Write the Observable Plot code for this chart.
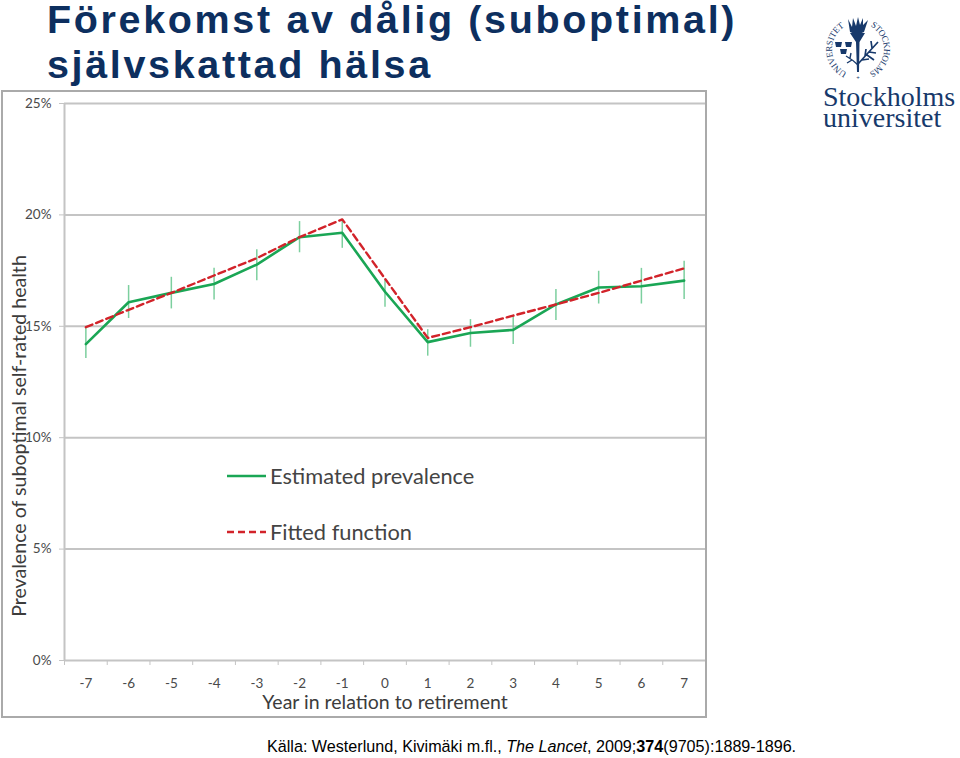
<!DOCTYPE html>
<html lang="sv"><head><meta charset="utf-8">
<script src="https://cdn.jsdelivr.net/npm/d3@7"></script>
<script src="https://cdn.jsdelivr.net/npm/@observablehq/plot@0.6"></script>
<style>
html,body{margin:0;padding:0;background:#fff;width:960px;height:758px;overflow:hidden;position:relative}
#title{position:absolute;left:47px;top:-3px;margin:0;font:bold 39.5px/45px "Liberation Sans",sans-serif;letter-spacing:2.65px;color:#0d2f5f;white-space:nowrap}
#chart{position:absolute;left:2px;top:91px}
#chart svg{display:block;outline:2px solid #aaa;outline-offset:-1px;background:#fff}
#source{position:absolute;left:267px;top:737px;font:16.15px/19px "Liberation Sans",sans-serif;color:#000;white-space:nowrap}
#legend{position:absolute;left:227px;top:463px;font:21.8px/26px Lato,sans-serif;color:#444}
#legend div{position:absolute;left:0;white-space:nowrap;display:flex;align-items:center;gap:4px}
#logo{position:absolute;left:815px;top:10px}
#wordmark{position:absolute;left:823px;top:86px;font:28px/21px "Liberation Serif",serif;color:#17396b}
</style></head><body>
<h1 id="title">Förekomst av dålig (suboptimal)<br>självskattad hälsa</h1>
<div id="chart"></div>
<div id="legend">
  <div style="top:0"><svg width="39" height="6"><line x1="0" x2="39" y1="3" y2="3" stroke="#1aa655" stroke-width="2.6"/></svg>Estimated prevalence</div>
  <div style="top:56px"><svg width="39" height="6"><line x1="0" x2="39" y1="3" y2="3" stroke="#d2232a" stroke-width="2.6" stroke-dasharray="7 4"/></svg>Fitted function</div>
</div>
<svg id="logo" width="86" height="76" viewBox="0 0 86 76" fill="#17396b">
  <defs><path id="ring" d="M32 62.6 A26 26 0 1 1 54 62.6"/></defs>
  <text font-family="Liberation Serif,serif" font-size="9"><textPath href="#ring" startOffset="0" textLength="56" lengthAdjust="spacing">UNIVERSITET</textPath></text>
  <text font-family="Liberation Serif,serif" font-size="9"><textPath href="#ring" startOffset="83" textLength="57" lengthAdjust="spacing">STOCKHOLMS</textPath></text>
  <text x="43" y="69" font-size="6" text-anchor="middle" font-family="Liberation Sans,sans-serif">+</text>
  <path d="M33 9 L37 17 L38 8 L41 16 L43 7 L45 15 L48 8 L48 15 L53 10 L49 22 Q42 26 35 22Z"/>
  <path d="M35 23 L50 23 L44.5 32 L44 62 L42 62 L41 32Z"/>
  <path d="M20 32h7l-1 5h-5zM30 32h7l-1 5h-5zM25 39h7l-1 5h-5z"/>
  <path d="M43 54 Q52 44 63 32 M47 50l7-1M50 46l1-7M54 42l7 1M52 45l7 5M57 38l-1-7" fill="none" stroke="#17396b" stroke-width="1.7"/>
  <path d="M43 55 Q38 50 31 46 M37 50l-5 3M35 48l1-5" fill="none" stroke="#17396b" stroke-width="1.4"/>
</svg>
<div id="wordmark">Stockholms<br>universitet</div>
<div id="source">Källa: Westerlund, Kivimäki m.fl., <i>The Lancet</i>, 2009;<b>374</b>(9705):1889-1896.</div>
<script>
const years = [-7,-6,-5,-4,-3,-2,-1,0,1,2,3,4,5,6,7];
const estimated = [14.2,16.08,16.5,16.9,17.77,19.0,19.2,16.55,14.29,14.7,14.84,15.98,16.74,16.8,17.05];
const fitted = [14.96,15.74,16.5,17.28,18.06,19.0,19.8,17.14,14.48,14.96,15.48,15.98,16.5,17.05,17.6];
const lower = [13.55,15.35,15.78,16.18,17.05,18.3,18.5,15.86,13.66,14.06,14.18,15.26,16.0,16.0,16.2];
const upper = [14.96,16.83,17.2,17.6,18.44,19.7,19.8,17.1,14.85,15.3,15.5,16.65,17.47,17.6,17.92];
const yTicks = [0,5,10,15,20,25];
const xBoundaries = [-7.5,-6.5,-5.5,-4.5,-3.5,-2.5,-1.5,-0.5,0.5,1.5,2.5,3.5,4.5,5.5,6.5,7.5];
const xLabel = "Year in relation to retirement";
const yLabel = "Prevalence of suboptimal self-rated health";
const table = years.map((year,i)=>({year,est:estimated[i],fit:fitted[i],lo:lower[i],hi:upper[i]}));
const grey = "#c4c4c4", ink = "#4a4a4a";
const plot = Plot.plot({
  width:704, height:626,
  marginLeft:62, marginRight:1, marginTop:12, marginBottom:57,
  style:{fontFamily:"Lato, sans-serif", background:"#fff"},
  x:{domain:[-7.5,7.5]}, y:{domain:[0,25]},
  marks:[
    Plot.gridY(yTicks,{stroke:grey,strokeOpacity:1,strokeWidth:2}),
    Plot.ruleX([-7.5],{stroke:grey,strokeWidth:2}),
    Plot.axisY({ticks:yTicks,tickFormat:d=>d+"%",tickSize:5,tickPadding:8,stroke:grey,color:ink,fontSize:13.5,label:null}),
    Plot.axisX({ticks:xBoundaries,tickFormat:()=>"",tickSize:5,stroke:grey,label:null}),
    Plot.axisX({ticks:years,tickFormat:d=>String(d),tickSize:0,tickPadding:18,color:ink,fontSize:13.5,label:null}),
    Plot.text([xLabel],{frameAnchor:"bottom",dy:48,fontSize:19.5,fill:"#3c3c3c"}),
    Plot.ruleX(table,{x:"year",y1:"lo",y2:"hi",stroke:"#7ccf9e",strokeWidth:1.5}),
    Plot.line(table,{x:"year",y:"est",stroke:"#1aa655",strokeWidth:2.6}),
    Plot.line(table,{x:"year",y:"fit",stroke:"#d2232a",strokeWidth:2.4,strokeDasharray:"7 4"}),
    Plot.text([yLabel],{frameAnchor:"left",textAnchor:"middle",dx:-45,dy:54,rotate:-90,fontSize:19.6,fill:"#3c3c3c"})
  ]
});
document.getElementById("chart").append(plot);
</script>
</body></html>
